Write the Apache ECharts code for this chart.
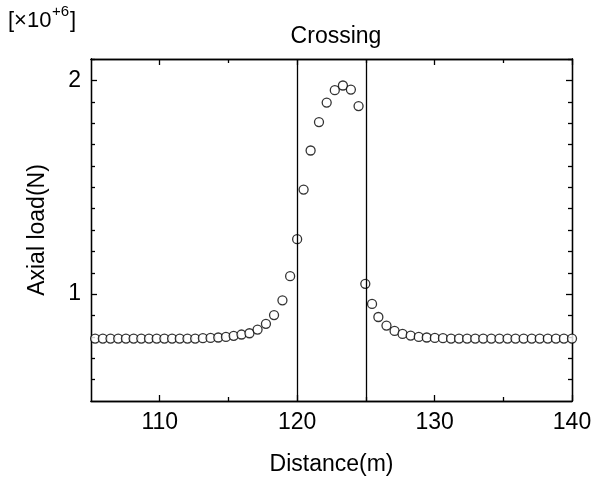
<!DOCTYPE html>
<html><head><meta charset="utf-8">
<script src="https://cdn.jsdelivr.net/npm/echarts@6/dist/echarts.min.js"></script>
<style>html,body{margin:0;padding:0;background:#fff}#c{width:613px;height:481px}</style>
</head><body><div id="c"></div>
<script>
const distance = [105.3,105.86,106.42,106.98,107.54,108.1,108.66,109.22,109.78,110.34,110.9,111.46,112.02,112.58,113.14,113.7,114.26,114.82,115.38,
  115.95,116.53,117.12,117.73,118.32,118.93,119.49,120.0,120.47,120.98,121.59,122.15,122.74,123.33,123.91,124.47,124.96,125.45,125.91,
  126.5,127.09,127.67,128.26,128.85,129.43,130.02,130.61,131.2,131.78,132.37,132.96,133.54,134.13,134.72,135.31,135.89,136.48,137.07,137.65,138.24,138.83,139.41,140.0];
const axialLoad = [0.792,0.792,0.792,0.792,0.792,0.792,0.792,0.792,0.792,0.792,0.792,0.792,0.792,0.792,0.794,0.795,0.797,0.800,0.805,
  0.811,0.817,0.834,0.861,0.902,0.971,1.084,1.257,1.489,1.672,1.805,1.896,1.954,1.976,1.957,1.880,1.048,0.954,0.893,
  0.853,0.828,0.814,0.806,0.800,0.797,0.795,0.794,0.792,0.792,0.792,0.792,0.792,0.792,0.792,0.792,0.792,0.792,0.792,0.792,0.792,0.792,0.792,0.792];
const xMajorTicks = [110,120,130,140];
const xMinorTicks = [115,125,135];
const yMajorTicks = [1,2];
const yMinorTicks = [0.6,0.7,0.8,0.9,1.1,1.2,1.3,1.4,1.5,1.6,1.7,1.8,1.9,2.1];
const boundaryLines = [120,125];
const titleText = 'Crossing';
const xName = 'Distance(m)';
const yName = 'Axial load(N)';

const FONT = 'Liberation Sans, Arial, sans-serif';
const FS = 23;
const lineStyle = {color:'#000', width:1.3};
function xAx(pos, ticks, len, labels, name){
  return {type:'value', position:pos, min:105, max:140,
    axisLine:{show:true, onZero:false, lineStyle},
    axisTick:{show:true, inside:true, length:len, customValues:ticks, lineStyle},
    axisLabel:{show:labels, customValues:ticks, color:'#000', fontSize:FS, fontFamily:FONT, margin:10},
    splitLine:{show:false},
    name:name||'', nameLocation:'middle', nameGap:52, nameTextStyle:{color:'#000', fontSize:FS, fontFamily:FONT}};
}
function yAx(pos, ticks, len, labels, name){
  return {type:'value', position:pos, min:0.5, max:2.1,
    axisLine:{show:true, onZero:false, lineStyle},
    axisTick:{show:true, inside:true, length:len, customValues:ticks, lineStyle},
    axisLabel:{show:labels, customValues:ticks, color:'#000', fontSize:FS, fontFamily:FONT, margin:10},
    splitLine:{show:false},
    name:name||'', nameLocation:'middle', nameGap:42, nameTextStyle:{color:'#000', fontSize:FS, fontFamily:FONT}};
}
const chart = echarts.init(document.getElementById('c'), null, {renderer:'canvas'});
chart.setOption({
  animation:false,
  backgroundColor:'#fff',
  title:{text:titleText, left:331, top:20, textAlign:'center', textStyle:{color:'#000', fontSize:FS, fontWeight:'normal', fontFamily:FONT}},
  grid:{left:91, right:41, top:59, bottom:79, containLabel:false},
  graphic:[
    {type:'text', left:8, top:10, style:{text:'[×10', fill:'#000', font:'22px '+FONT}},
    {type:'text', left:52, top:4, style:{text:'+6', fill:'#000', font:'15px '+FONT}},
    {type:'text', left:70, top:10, style:{text:']', fill:'#000', font:'22px '+FONT}}
  ],
  xAxis:[xAx('bottom', xMajorTicks, 6, true, xName), xAx('bottom', xMinorTicks, 4, false),
         xAx('top', xMajorTicks, 6, false), xAx('top', xMinorTicks, 4, false)],
  yAxis:[yAx('left', yMajorTicks, 6, true, yName), yAx('left', yMinorTicks, 4, false),
         yAx('right', yMajorTicks, 6, false), yAx('right', yMinorTicks, 4, false)],
  series:[{
    type:'scatter', xAxisIndex:0, yAxisIndex:0,
    data: distance.map((d,i)=>[d, axialLoad[i]]),
    symbol:'circle', symbolSize:9,
    itemStyle:{color:'#fff', borderColor:'#000', borderWidth:1.3},
    markLine:{silent:true, symbol:['none','none'], label:{show:false},
      lineStyle:{color:'#000', width:1.3, type:'solid'},
      data: boundaryLines.map(v=>({xAxis:v}))}
  }]
});
</script></body></html>
